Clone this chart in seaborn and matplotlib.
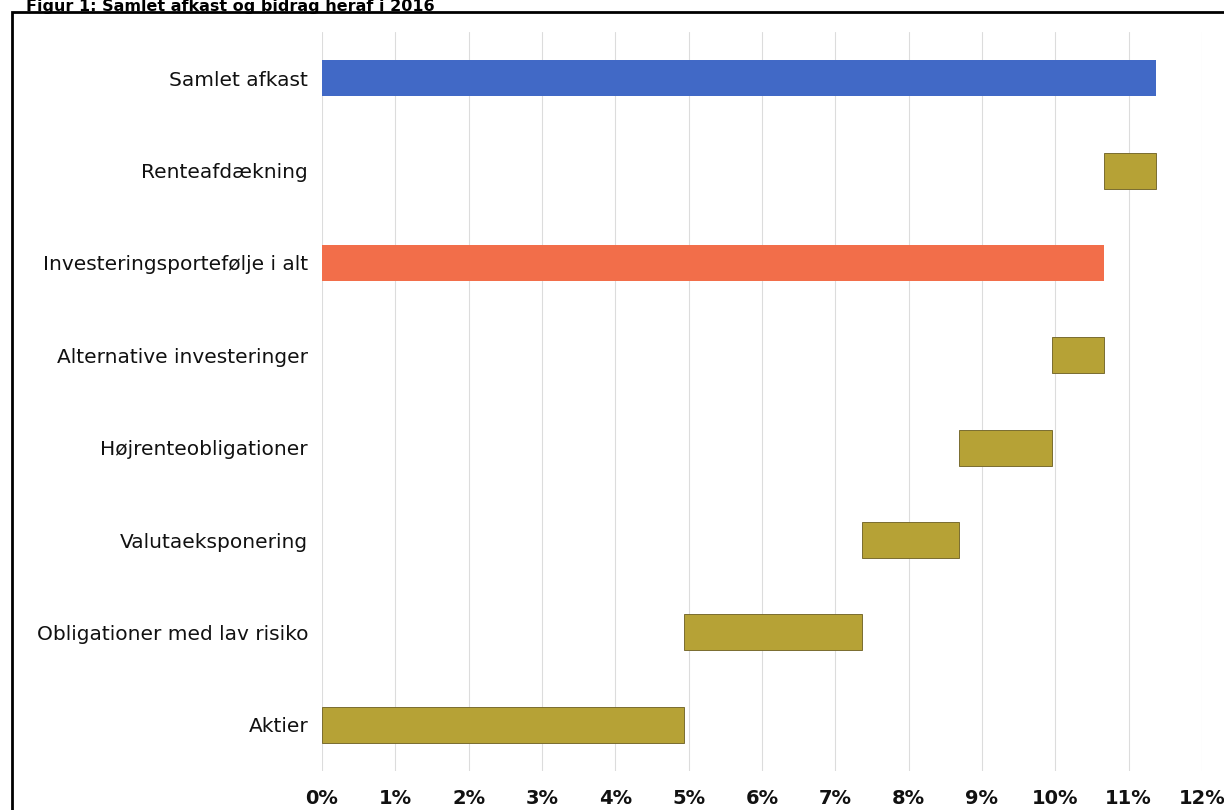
import matplotlib
matplotlib.use("Agg")
import matplotlib.pyplot as plt
import matplotlib.patches as mpatches
import seaborn as sns
import pandas as pd

categories = ["Samlet afkast", "Renteafdækning", "Investeringsportefølje i alt",
              "Alternative investeringer", "Højrenteobligationer", "Valutaeksponering",
              "Obligationer med lav risiko", "Aktier"]
starts = [0.0, 10.66, 0.0, 9.95, 8.69, 7.37, 4.94, 0.0]
ends = [11.37, 11.37, 10.66, 10.66, 9.95, 8.69, 7.37, 4.94]
xticks = list(range(0, 13))
xtick_labels = [f"{t}%" for t in xticks]
title = "Figur 1: Samlet afkast og bidrag heraf i 2016"

blue = "#4169C6"
orange = "#F26E4A"
gold = "#B6A236"
colors = [blue, gold, orange, gold, gold, gold, gold, gold]

df = pd.DataFrame({"cat": categories, "start": starts, "end": ends})
df["width"] = df["end"] - df["start"]

sns.set_theme(style="white")
plt.rcParams["font.family"] = ["DejaVu Sans"]

W, H = 1224, 810
fig = plt.figure(figsize=(W / 100, H / 100), dpi=100)
ax = fig.add_axes([322 / W, 1 - 771 / H, 880 / W, 739 / H])

sns.barplot(data=df, x="width", y="cat", hue="cat", palette=colors, legend=False,
            orient="h", width=0.39, saturation=1, ax=ax, zorder=3)
for patch, s, c in zip(ax.patches, df["start"], colors):
    patch.set_x(s)
    if c == gold:
        patch.set_edgecolor("#7a6c30")
        patch.set_linewidth(0.7)
    else:
        patch.set_edgecolor("none")

ax.set_xlim(0, 12)
ax.set_ylim(len(categories) - 0.5, -0.5)
ax.set_xticks(xticks)
ax.set_xticklabels(xtick_labels, fontsize=14, fontweight="bold", color="#111111")
ax.tick_params(axis="x", length=0, pad=13)
ax.tick_params(axis="y", length=0, pad=10, labelsize=14.5, labelcolor="#111111")
ax.set_xlabel("")
ax.set_ylabel("")
ax.xaxis.grid(True, color="#dcdcdc", linewidth=0.8, zorder=0)
ax.set_axisbelow(True)
for sp in ax.spines.values():
    sp.set_visible(False)

# figure frame
frame = mpatches.Rectangle((12 / W, -0.1), 1.2, (1 - 12 / H) + 0.1,
                           transform=fig.transFigure, fill=False,
                           edgecolor="black", linewidth=2, clip_on=False)
fig.patches.append(frame)

fig.text(26 / W, 1 - 10.5 / H, title, fontsize=11.5, fontweight="bold",
         ha="left", va="baseline", color="black")

fig.savefig("out.png", dpi=100)
